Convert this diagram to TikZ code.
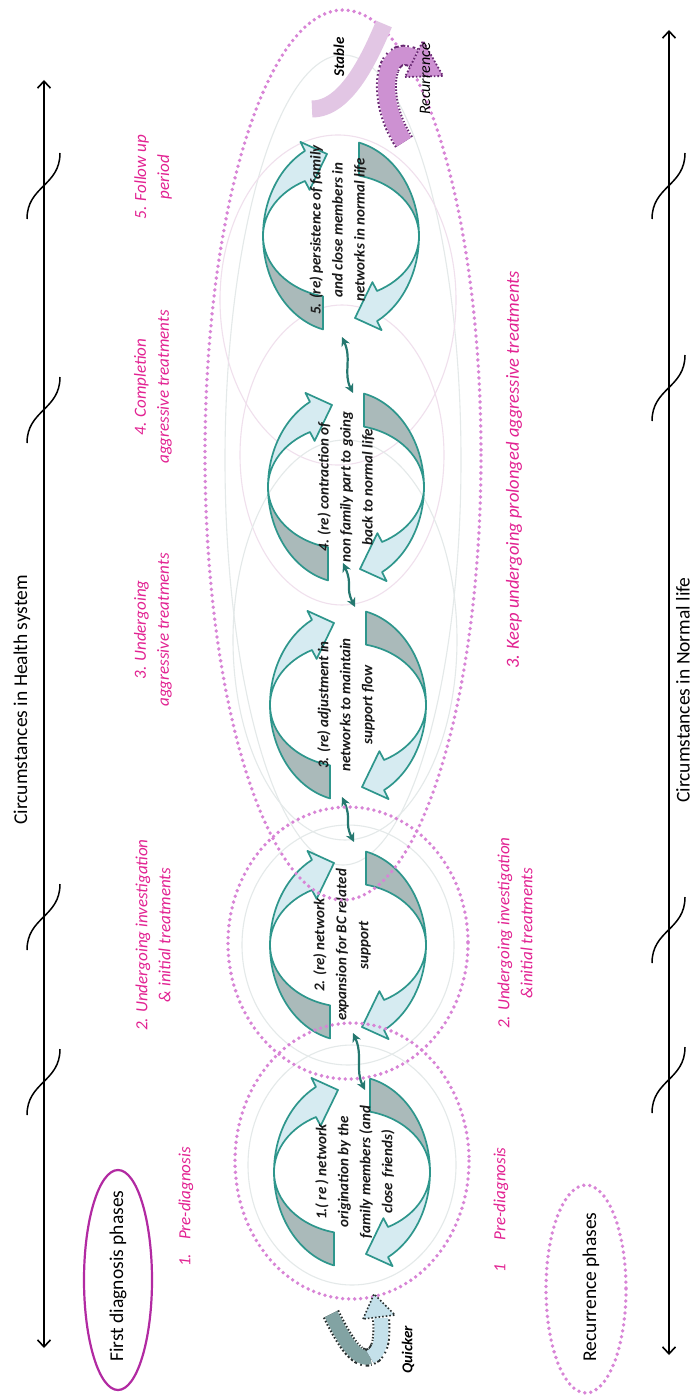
\documentclass[tikz,border=0pt]{standalone}
\usepackage{fontspec}
\setmainfont{Carlito}
\usetikzlibrary{arrows.meta}

\definecolor{cycT}{RGB}{46,150,140}
\definecolor{cycL}{RGB}{214,235,241}
\definecolor{cycD}{RGB}{170,186,186}
\definecolor{mag}{RGB}{226,34,146}
\definecolor{dotc}{RGB}{216,132,214}
\definecolor{ring}{RGB}{178,42,162}
\definecolor{faintP}{RGB}{240,224,237}
\definecolor{faintG}{RGB}{228,233,233}
\definecolor{recF}{RGB}{205,145,210}
\definecolor{recO}{RGB}{105,40,115}
\definecolor{stabF}{RGB}{226,198,228}
\definecolor{qD}{RGB}{130,163,163}
\definecolor{qL}{RGB}{196,224,234}
\definecolor{qO}{RGB}{40,48,48}

\tikzset{
  axisline/.style={line width=1.6pt,
    {Straight Barb[length=7pt,width=13pt]}-{Straight Barb[length=7pt,width=13pt]}},
  brk/.pic={\draw[line width=1.5pt] (16,-33) .. controls (16,0) and (-17,0) .. (-17,33);},
  cyclight/.style={fill=cycL, draw=cycT, line width=1.7pt, line join=round},
  cycdark/.style={fill=cycD, draw=cycT, line width=1.7pt, line join=round},
  % one half of the circular arrow pair: dark tail below, light head above
  halfcyc/.pic={
    \filldraw[cycdark] (103.3:78 and 96)
      arc[start angle=103.3, end angle=180, x radius=78, y radius=96]
      arc[start angle=180, end angle=103.3, x radius=78, y radius=62] -- cycle;
    \filldraw[cyclight] (180:78 and 96)
      arc[start angle=180, end angle=242.5, x radius=78, y radius=96]
      -- (-40.6,-94.1) -- (-14,-82) -- (-31.4,-46.1) -- (242.5:78 and 62)
      arc[start angle=242.5, end angle=180, x radius=78, y radius=62] -- cycle;
  },
  cyclepair/.pic={\pic{halfcyc}; \pic[rotate=180]{halfcyc};},
  cyctext/.style={rotate=90, align=center, text=black!90,
    font=\bfseries\itshape\fontsize{15}{22}\selectfont, inner sep=0pt},
  phase/.style={rotate=90, align=center, text=mag,
    font=\itshape\fontsize{17}{23}\selectfont, inner sep=0pt},
  plain/.style={rotate=90, align=center, text=black,
    font=\fontsize{19.5}{24}\selectfont, inner sep=0pt},
  dotring/.style={draw=dotc, line width=3.8pt, line cap=round, dash pattern=on 0pt off 6pt},
  faintring/.style={draw=faintP, line width=1.1pt},
  greyring/.style={draw=faintG, line width=1.1pt},
  linkarrow/.style={draw=cycT!80!black, line width=2.2pt,
    {Stealth[length=9pt,width=9pt]}-{Stealth[length=9pt,width=9pt]}},
  smalllabel/.style={rotate=90, text=black, inner sep=0pt,
    font=\bfseries\itshape\fontsize{15}{18}\selectfont},
}

\begin{document}
\begin{tikzpicture}[x=1pt, y=-1pt]
\useasboundingbox (0,0) rectangle (695,1396);
\fill[white] (0,0) rectangle (695,1396);

% ---- faint guide rings behind the cycles
\draw[greyring] (343,460) ellipse[x radius=118, y radius=405];
\draw[faintring] (338,300) ellipse[x radius=118, y radius=165];
\draw[faintring] (342,455) ellipse[x radius=102, y radius=150];
\draw[greyring] (345,640) ellipse[x radius=112, y radius=200];
\draw[greyring] (348,945) ellipse[x radius=106, y radius=120];
\draw[greyring] (352,1165) ellipse[x radius=104, y radius=120];

% ---- timeline axes
\coordinate (hTop) at (44,80);
\coordinate (hBot) at (44,1348);
\coordinate (nTop) at (669,30);
\coordinate (nBot) at (669,1355);
\draw[axisline] (hBot) -- (hTop);
\draw[axisline] (nBot) -- (nTop);
\foreach \yy in {186,410,917,1082} \pic at (44,\yy) {brk};
\foreach \yy in {186,388,930,1080} \pic at (669,\yy) {brk};

\node[plain] (hsys) at (22,700) {Circumstances in Health system};
\node[plain] (nlife) at (683,690) {Circumstances in Normal life};

% ---- legend ellipses
\draw[ring, line width=2.2pt] (118,1280) ellipse[x radius=34, y radius=110];
\node[plain] (first) at (118,1276) {First diagnosis phases};
\draw[dotring] (586,1289) ellipse[x radius=40, y radius=104];
\node[plain] (recur) at (591,1287) {Recurrence phases};

% ---- phase labels, health-system side
\node[phase] (p5) at (153,177) {5. Follow up\\period};
\node[phase] (p4) at (153,387) {4. Completion\\aggressive treatments};
\node[phase] (p3) at (153,630) {3. Undergoing\\aggressive treatments};
\node[phase] (p2) at (153,935) {2. Undergoing investigation\\\& initial treatments};
\node[phase] (p1) at (186,1207) {1.\hspace{14pt}Pre-diagnosis};

% ---- phase labels, normal-life side
\node[phase, font=\itshape\fontsize{18.5}{23}\selectfont] (r3) at (514,470)
  {3. Keep undergoing prolonged aggressive treatments};
\node[phase] (r2) at (515,933) {2. Undergoing investigation\\\&initial treatments};
\node[phase] (r1) at (501,1210) {1\hspace{24pt}Pre-diagnosis};

% ---- the five network cycles
\pic at (352,1172) {cyclepair};
\pic at (348,945) {cyclepair};
\pic at (348,705) {cyclepair};
\pic at (346,487) {cyclepair};
\pic at (341,236) {cyclepair};

\node[cyctext] (t1) at (355,1172) {1.( re ) network\\origination by the\\family members (and\\close\hspace{5pt}friends)};
\node[cyctext] (t2) at (342,945) {2. (re) network\\expansion for BC related\\support};
\node[cyctext] (t3) at (346,705) {3. (re) adjustment in\\networks to maintain\\support flow};
\node[cyctext] (t4) at (346,487) {4. (re) contraction of\\non family part to going\\back to normal life};
\node[cyctext] (t5) at (338,230) {5. (re) persistence of family\\and close members in\\networks in normal life};

% ---- links between consecutive cycles
\coordinate (l12a) at (353,1033); \coordinate (l12b) at (365,1090);
\coordinate (l23a) at (342,797);  \coordinate (l23b) at (354,842);
\coordinate (l34a) at (343,563);  \coordinate (l34b) at (355,607);
\coordinate (l45a) at (342,337);  \coordinate (l45b) at (353,393);
\foreach \a/\b in {l12a/l12b, l23a/l23b, l34a/l34b, l45a/l45b}
  \draw[linkarrow] (\a) .. controls +(10,22) and +(-10,-20) .. (\b);

% ---- dotted phase groupings
\draw[dotring] (352,1161) ellipse[x radius=117, y radius=138];
\draw[dotring] (348,943) ellipse[x radius=120, y radius=136];
\draw[dotring] (343,455) ellipse[x radius=138, y radius=445];

% ---- stable / recurrence outcome arrows
\draw[stabF, line width=17pt] (312,109) .. controls (345,109) and (368,62) .. (384,24);
\draw[recO, line width=21pt, dash pattern=on 1.6pt off 2pt]
  (404,142) .. controls (376,100) and (383,42) .. (414,58);
\draw[recF, line width=17pt]
  (404,142) .. controls (376,100) and (383,42) .. (414,58);
\filldraw[fill=recF, draw=recO, line width=1.8pt, dash pattern=on 1.6pt off 2pt]
  (405,77) -- (443,76) -- (423,41) -- cycle;
\node[smalllabel] (stable) at (339,57) {Stable};
\node[smalllabel, font=\itshape\fontsize{16}{18}\selectfont] (recl) at (425,79) {Recurrence};

% ---- quicker return arrow
\draw[qO, line width=18pt, dash pattern=on 1.6pt off 2pt]
  (331,1314) .. controls (342,1336) and (356,1362) .. (370,1357);
\draw[qD, line width=14pt]
  (331,1314) .. controls (342,1336) and (356,1362) .. (370,1357);
\draw[qO, line width=18pt, dash pattern=on 1.6pt off 2pt]
  (370,1357) .. controls (382,1352) and (382,1335) .. (381,1318);
\draw[qL, line width=14pt]
  (370,1357) .. controls (382,1352) and (382,1335) .. (381,1318);
\filldraw[fill=qL, draw=qO, line width=1.6pt, dash pattern=on 1.6pt off 2pt]
  (363,1319) -- (374,1294) -- (395,1315) -- cycle;
\node[smalllabel] (quick) at (408,1350) {Quicker};
\end{tikzpicture}
\end{document}
